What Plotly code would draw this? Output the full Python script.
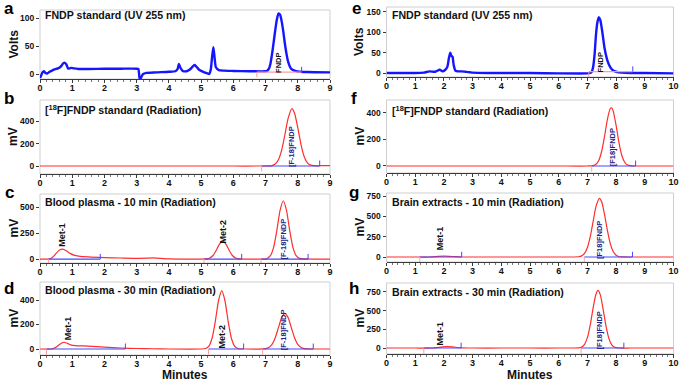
import plotly.graph_objects as go

# ---------------- data ----------------
a_t = [0.0,0.04,0.08,0.12,0.17,0.22,0.3,0.4,0.5,0.6,0.67,0.72,0.77,0.82,0.87,0.92,0.97,1.05,1.2,1.5,2.0,2.5,3.0,3.05,3.08,3.1,3.14,3.2,3.3,3.6,4.0,4.2,4.27,4.31,4.35,4.42,4.55,4.65,4.75,4.8,4.87,4.95,5.1,5.2,5.25,5.3,5.34,5.38,5.42,5.46,5.55,5.7,6.0,6.5,7.0,7.05,7.1,7.15,7.2,7.25,7.3,7.35,7.4,7.45,7.5,7.55,7.6,7.65,7.7,7.75,7.8,7.9,8.0,8.3,9.0]
a_v = [-7,-2,3,5,2,1,4,7,9,11,15,19,20,17,10,10,11,10,9,9,9.5,9.5,9.5,9,-3,-10,-6,0,2,3,4,5,9,18,12,6,5,8,14,16,12,7,3,1,0,8,30,48,28,12,7,6,5.5,5,5,6,9,18,35,56,78,97,108,106,94,76,54,36,22,14,9,6,4.5,3.5,3]

b_t = [0,1,2,3,4,5,6,6.8,7.1,7.2,7.3,7.4,7.5,7.6,7.7,7.82,7.9,8.0,8.1,8.2,8.3,8.4,8.5,8.6,8.8,9.0]
b_v = [0,0,0,0,0,0,0,0,1,4,18,56,141,278,424,510,469,341,191,83,28,8,3,2,3,4]

c_t = [0,0.25,0.35,0.45,0.55,0.62,0.69,0.76,0.85,0.95,1.05,1.2,1.5,2.0,2.5,3.0,3.3,3.5,3.7,4.0,4.5,5.0,5.17,5.27,5.37,5.47,5.57,5.67,5.77,5.87,5.97,6.07,6.17,6.4,7.0,7.05,7.15,7.25,7.35,7.45,7.55,7.65,7.75,7.85,7.95,8.05,8.2,8.5,9.0]
c_v = [0,0,8,35,72,90,95,90,72,52,38,28,20,14,10,7,9,11,7,2,0,0,2,10,34,84,144,172,144,84,34,10,2,0,0,6,32,112,274,468,560,468,274,112,32,6,1,0,0]

d_t = [0,0.35,0.45,0.55,0.65,0.74,0.85,0.95,1.1,1.5,2.0,2.5,3.0,3.5,4.0,5.0,5.14,5.24,5.34,5.44,5.54,5.64,5.74,5.84,5.94,6.04,6.14,6.4,7.0,7.1,7.2,7.3,7.4,7.5,7.6,7.7,7.8,7.9,8.0,8.1,8.2,8.5,9.0]
d_v = [0,0,8,25,45,55,46,34,28,24,15,8,4,2,0,0,4,23,88,224,394,476,394,224,88,23,4,0,3,12,37,92,174,256,291,256,174,92,37,12,3,0,0]

e_t = [0,0.5,1.0,1.3,1.5,1.7,1.85,1.95,2.05,2.12,2.17,2.22,2.26,2.3,2.34,2.4,2.5,2.6,2.75,2.9,3.0,3.5,4.0,5.0,6.0,7.0,7.1,7.15,7.2,7.25,7.3,7.35,7.4,7.45,7.5,7.55,7.6,7.7,7.8,7.9,8.0,8.2,8.5,9.0,10.0]
e_v = [0,0,0,1,4,3,8,4,8,15,35,50,42,40,20,6,4,4,3,2,1,0,0,0,-1,-1,0,3,15,45,95,125,137,130,110,85,60,30,14,6,3,1,0,0,-1]

f_t = [0,1,2,3,4,5,6,7.0,7.2,7.3,7.4,7.5,7.6,7.7,7.8,7.85,7.9,8.0,8.1,8.2,8.3,8.4,8.5,8.6,9,10]
f_v = [0,0,0,0,0,0,0,0,3,13,44,113,227,356,435,438,414,306,177,79,28,8,2,0,0,0]

g_t = [0,1.0,1.5,1.8,2.0,2.3,2.6,3,4,5,6,6.7,6.8,6.9,7.0,7.1,7.2,7.3,7.42,7.5,7.6,7.7,7.8,7.9,8.0,8.1,8.2,8.5,9,10]
g_v = [0,0,0,7,10,6,0,0,0,0,0,3,14,44,117,251,438,622,722,676,517,321,162,67,22,6,1,0,0,0]

h_t = [0,1.0,1.6,1.9,2.1,2.3,2.6,3.0,4,5,6,6.7,6.8,6.9,7.0,7.1,7.2,7.3,7.37,7.45,7.55,7.65,7.75,7.85,7.95,8.05,8.15,8.5,9,10]
h_v = [0,0,0,12,20,15,3,0,0,0,0,3,13,49,139,310,537,724,770,711,513,289,126,43,11,3,0,0,0,0]

# integration windows (start, end)
a_int = [(6.73, 8.12)]
b_int = [(6.88, 8.68)]
c_int = [(0.26, 1.87), (5.09, 6.26), (6.86, 8.32)]
d_int = [(0.20, 2.65), (5.23, 6.32), (6.91, 8.48)]
e_int = [(7.05, 8.58)]
f_int = [(7.15, 8.68)]
g_int = [(1.16, 2.62), (6.89, 8.57)]
h_int = [(1.30, 2.60), (6.78, 8.27)]

# peak labels (text, time, height)
a_lab = [("FNDP", 7.42, 20)]
b_lab = [("[F-18]FNDP", 7.80, 171)]
c_lab = [("Met-1", 0.70, 230), ("Met-2", 5.67, 262), ("[F-18]FNDP", 7.55, 190)]
d_lab = [("Met-1", 0.87, 170), ("Met-2", 5.64, 100), ("[F-18]FNDP", 7.55, 155)]
e_lab = [("FNDP", 7.46, 25)]
f_lab = [("[F18]FNDP", 7.88, 138)]
g_lab = [("Met-1", 1.86, 230), ("[F18]FNDP", 7.44, 209)]
h_lab = [("Met-1", 1.87, 197), ("[F18]FNDP", 7.42, 241)]

titles = {
    "a": "FNDP standard (UV 255 nm)",
    "b": "[<sup>18</sup>F]FNDP standard (Radiation)",
    "c": "Blood plasma - 10 min (Radiation)",
    "d": "Blood plasma - 30 min (Radiation)",
    "e": "FNDP standard (UV 255 nm)",
    "f": "[<sup>18</sup>F]FNDP standard (Radiation)",
    "g": "Brain extracts - 10 min (Radiation)",
    "h": "Brain extracts - 30 min (Radiation)",
}
y_titles = {"a": "Volts", "e": "Volts"}
y_ticks = {"a": [0, 50, 100], "b": [0, 200, 400], "c": [0, 250, 500], "d": [0, 200, 400],
           "e": [0, 50, 100, 150], "f": [0, 200, 400], "g": [0, 250, 500, 750], "h": [0, 250, 500, 750]}

# ---------------- layout (pixels) ----------------
W, H = 685, 382
FONT = "Arial, Liberation Sans, sans-serif"
def px(x): return x / W
def py(y): return 1 - y / H

panels = [
    ("a", a_t, a_v, a_int, a_lab, True, 0, (10, 79), (-8.9, 114.3), 9),
    ("b", b_t, b_v, b_int, b_lab, False, 0, (100, 174), (-71, 587), 9),
    ("c", c_t, c_v, c_int, c_lab, False, 0, (194, 263), (-38, 625), 9),
    ("d", d_t, d_v, d_int, d_lab, False, 0, (282, 355), (-49, 547), 9),
    ("e", e_t, e_v, e_int, e_lab, True, 1, (7, 77), (-9.8, 162), 10),
    ("f", f_t, f_v, f_int, f_lab, False, 1, (100, 173), (-53, 498), 10),
    ("g", g_t, g_v, g_int, g_lab, False, 1, (193, 262), (-61.5, 787), 10),
    ("h", h_t, h_v, h_int, h_lab, False, 1, (283, 354), (-80, 870), 10),
]
col_x = [(40, 330), (386.5, 673.5)]
letter_pos = {"a": (9, 9), "b": (9, 98), "c": (9, 193), "d": (9, 288),
              "e": (356, 9), "f": (354, 98), "g": (354, 193), "h": (354, 288)}
title_y = {"a": 15, "b": 109, "c": 202, "d": 290, "e": 15, "f": 110, "g": 202, "h": 292}

BLUE_UV = "#1515ff"
RED = "#ff2d2d"
BASE_BLUE = "#4646ff"
PINK = "#ff9c9c"
NAVY = "#23238c"

fig = go.Figure()
layout = dict(width=W, height=H, margin=dict(l=0, r=0, t=0, b=0, pad=0),
              paper_bgcolor="white", plot_bgcolor="white", showlegend=False)
shapes, annos = [], []

for i, (key, t, v, ints, labs, uv, col, (top, bot), yr, xmax) in enumerate(panels):
    n = "" if i == 0 else str(i + 1)
    xa, ya = "x" + n, "y" + n
    x0p, x1p = col_x[col]
    layout["xaxis" + n] = dict(
        domain=[px(x0p), px(x1p)], anchor=ya, range=[0, xmax], dtick=1, tick0=0,
        showgrid=False, zeroline=False, showline=True, linecolor="#3a3a3a", linewidth=1,
        ticks="outside", ticklen=3, tickcolor="#3a3a3a", tickwidth=1,
        minor=dict(ticks="outside", ticklen=2, dtick=0.2, tick0=0, tickcolor="#777777"),
        ticklabelstandoff=-3,
        tickfont=dict(family=FONT, size=9, color="#111", weight="bold"), automargin=False)
    layout["yaxis" + n] = dict(
        domain=[py(bot), py(top)], anchor=xa, range=list(yr), tickvals=y_ticks[key],
        showgrid=False, zeroline=False, showline=False,
        ticks="outside", ticklen=3, tickcolor="#3a3a3a", tickwidth=1,
        tickfont=dict(family=FONT, size=8.5, color="#111", weight="bold"), automargin=False)
    shapes.append(dict(type="rect", xref=xa + " domain", yref=ya + " domain", x0=0, x1=1, y0=0, y1=1,
                       line=dict(color="#cfcfcf", width=1), layer="below"))
    span = yr[1] - yr[0]
    tick = 0.075 * span
    lvl = 3.5 if uv else 0
    for (s, e) in ints:
        shapes.append(dict(type="line", xref=xa, yref=ya, x0=s, x1=e, y0=lvl, y1=lvl,
                           line=dict(color=PINK if uv else BASE_BLUE, width=1.2)))
        shapes.append(dict(type="line", xref=xa, yref=ya, x0=s, x1=s, y0=lvl, y1=lvl - tick,
                           line=dict(color=PINK, width=1)))
        shapes.append(dict(type="line", xref=xa, yref=ya, x0=e, x1=e, y0=lvl, y1=lvl + tick,
                           line=dict(color=BASE_BLUE, width=1)))
    fig.add_trace(go.Scatter(x=t, y=v, xaxis=xa, yaxis=ya, mode="lines",
                             line=dict(color=BLUE_UV if uv else RED, width=2.4 if uv else 1.2,
                                       shape="spline", smoothing=0.6),
                             hoverinfo="skip"))
    for (txt, lx, ly) in labs:
        isfndp = "FNDP" in txt
        annos.append(dict(text="<b>%s</b>" % txt, x=lx, y=ly, xref=xa, yref=ya, textangle=-90,
                          showarrow=False, xanchor="center", yanchor="middle",
                          font=dict(family=FONT, size=7.5 if isfndp else 9,
                                    color=(NAVY if (isfndp and not uv) else "#111"))))
    annos.append(dict(text="<b>%s</b>" % titles[key], x=px(x0p + 3), y=py(title_y[key]),
                      xref="paper", yref="paper", xanchor="left", yanchor="middle", showarrow=False,
                      font=dict(family=FONT, size=10.6, color="#111")))
    lx, ly = letter_pos[key]
    annos.append(dict(text="<b>%s</b>" % key, x=px(lx), y=py(ly), xref="paper", yref="paper",
                      xanchor="center", yanchor="middle", showarrow=False,
                      font=dict(family=FONT, size=17, color="#000")))
    annos.append(dict(text="<b>%s</b>" % y_titles.get(key, "mV"), x=px(13 if col == 0 else 359),
                      y=py((top + bot) / 2), xref="paper", yref="paper", textangle=-90,
                      xanchor="center", yanchor="middle", showarrow=False,
                      font=dict(family=FONT, size=12, color="#111")))

for cx in [(col_x[0][0] + col_x[0][1]) / 2, (col_x[1][0] + col_x[1][1]) / 2]:
    annos.append(dict(text="<b>Minutes</b>", x=px(cx), y=py(375), xref="paper", yref="paper",
                      xanchor="center", yanchor="middle", showarrow=False,
                      font=dict(family=FONT, size=12, color="#111")))

layout["shapes"] = shapes
layout["annotations"] = annos
fig.update_layout(**layout)
fig.write_html("out.html", config={"displayModeBar": False},
               post_script="document.body.style.margin='0';document.body.style.padding='0';")
